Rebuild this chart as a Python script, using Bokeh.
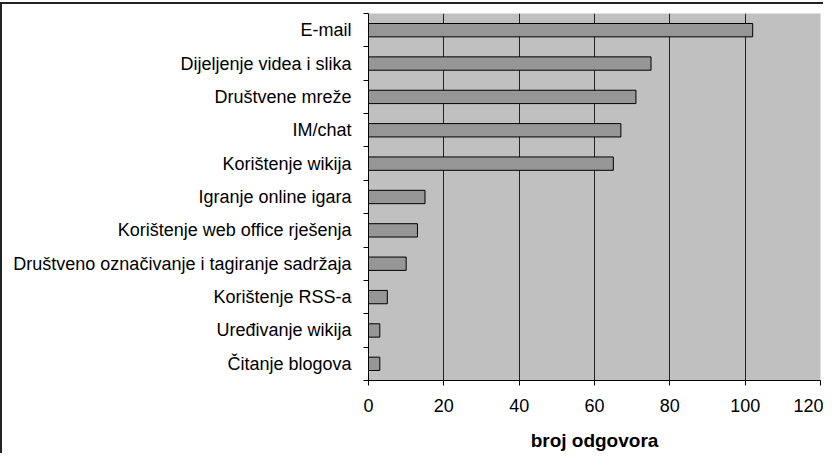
from bokeh.plotting import figure
from bokeh.models import FixedTicker, Range1d, ColumnDataSource
from bokeh.embed import file_html
from bokeh.resources import INLINE

categories = ["E-mail", "Dijeljenje videa i slika", "Društvene mreže", "IM/chat",
              "Korištenje wikija", "Igranje online igara", "Korištenje web office rješenja",
              "Društveno označivanje i tagiranje sadržaja", "Korištenje RSS-a",
              "Uređivanje wikija", "Čitanje blogova"]
values = [102, 75, 71, 67, 65, 15, 13, 10, 5, 3, 3]
x_ticks = [0, 20, 40, 60, 80, 100, 120]
grid_ticks = [20, 40, 60, 80, 100]
x_title = "broj odgovora"

n = len(categories)
ypos = [n - i - 0.5 for i in range(n)]
src = ColumnDataSource(dict(y=ypos, v=values, c=categories))

p = figure(width=823, height=451, output_backend="svg", toolbar_location=None,
           x_range=Range1d(0, 120), y_range=Range1d(0, n),
           min_border_left=366, min_border_right=5, min_border_top=9, min_border_bottom=75)
p.styles = {"border-left": "2px solid #222222", "border-top": "2px solid #222222",
            "margin-top": "2px"}
p.border_fill_color = "white"
p.background_fill_color = "#C0C0C0"
p.outline_line_color = None

p.hbar(y="y", right="v", left=0, height=0.4, source=src,
       fill_color="#969696", line_color="black", line_width=1)

font = "Liberation Sans"
p.xaxis.ticker = FixedTicker(ticks=x_ticks)
p.xaxis.axis_label = x_title
p.xaxis.axis_label_text_font = font
p.xaxis.axis_label_text_font_style = "bold"
p.xaxis.axis_label_text_font_size = "19px"
p.xaxis.axis_label_text_color = "black"
p.xaxis.axis_label_standoff = 15
p.xaxis.major_label_text_font = font
p.xaxis.major_label_text_font_size = "18px"
p.xaxis.major_label_text_color = "black"
p.xaxis.major_label_standoff = 13
p.xaxis.major_tick_in = 0
p.xaxis.major_tick_out = 5
p.xaxis.minor_tick_line_color = None
p.xaxis.axis_line_color = "black"
p.xaxis.major_tick_line_color = "black"

p.yaxis.ticker = FixedTicker(ticks=ypos, minor_ticks=list(range(n + 1)))
p.yaxis.major_label_overrides = {y: c for y, c in zip(ypos, categories)}
p.yaxis.major_label_text_font = font
p.yaxis.major_label_text_font_size = "18px"
p.yaxis.major_label_text_color = "black"
p.yaxis.major_label_standoff = 12
p.yaxis.major_tick_line_color = None
p.yaxis.major_tick_in = 0
p.yaxis.major_tick_out = 0
p.yaxis.minor_tick_in = 0
p.yaxis.minor_tick_out = 5
p.yaxis.minor_tick_line_color = "black"
p.yaxis.axis_line_color = "black"

p.xgrid.ticker = FixedTicker(ticks=grid_ticks)
p.xgrid.grid_line_color = "#222222"
p.ygrid.grid_line_color = None

open("out.html", "w").write(file_html(p, INLINE))
